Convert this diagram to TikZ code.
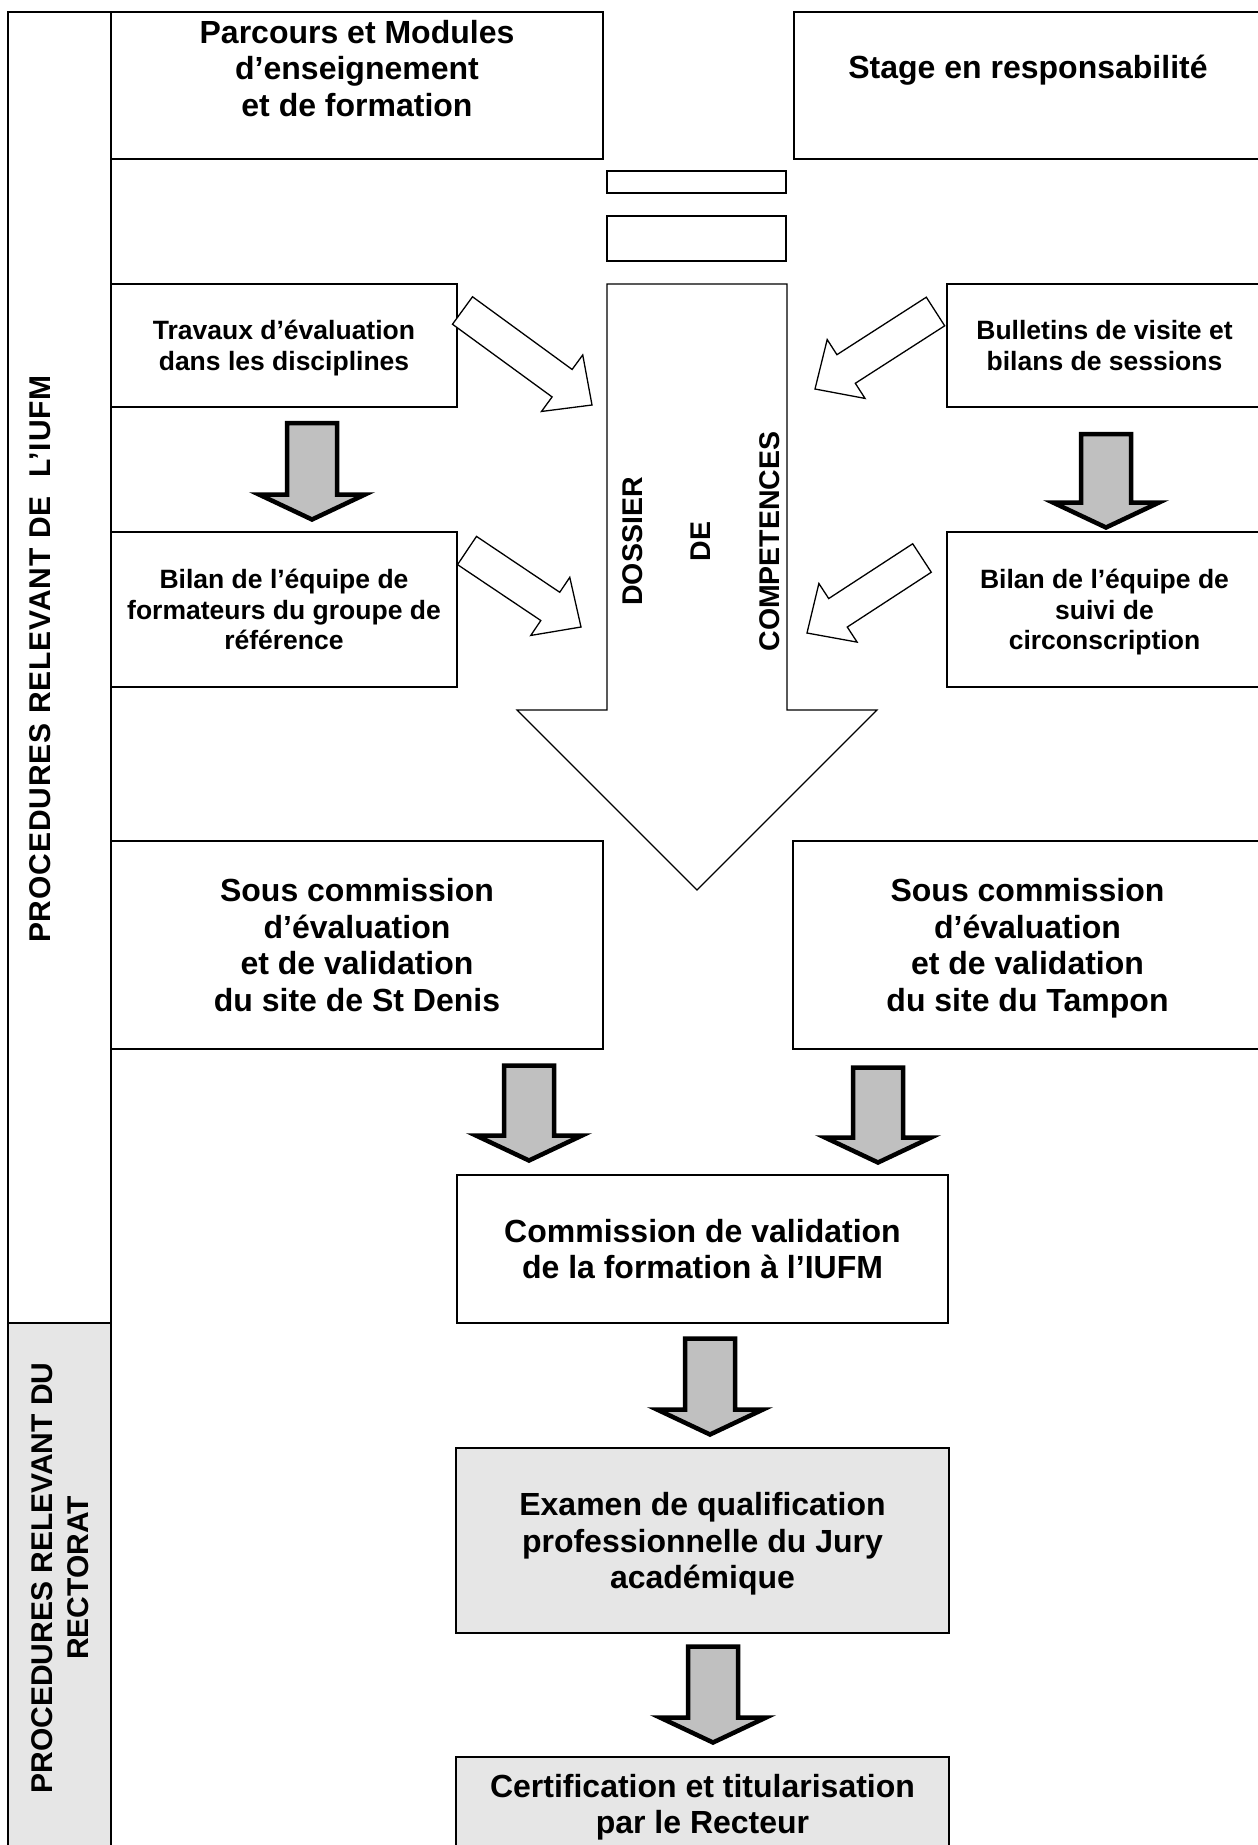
\documentclass[tikz,border=0pt]{standalone}
\usepackage{fontspec}
\setmainfont{Liberation Sans}
\usetikzlibrary{calc}

\definecolor{arrowgrey}{HTML}{C0C0C0}
\definecolor{panelgrey}{HTML}{E6E6E6}

% last line without descender depth, so the text sits like the others
\newcommand\flatline[1]{\raisebox{0pt}[\height][0pt]{#1}}

% block arrow: [style]{from}{to}{shaft half width}{head half width}{head length}
\newcommand\blockarrow[6][]{%
  \coordinate (neck) at ($(#3)!#6!(#2)$);
  \draw[#1] ($(#2)!#4!90:(#3)$) -- ($(neck)!#4!90:(#3)$) -- ($(neck)!#5!90:(#3)$) -- (#3)
    -- ($(neck)!#5!-90:(#3)$) -- ($(neck)!#4!-90:(#3)$) -- ($(#2)!#4!-90:(#3)$) -- cycle;
}

\tikzset{
  box/.style={draw, line width=2pt, inner sep=0pt, outer sep=0pt, anchor=north west,
    align=center, font=\bfseries\fontsize{32}{36.5}\selectfont},
  smallbox/.style={box, font=\bfseries\fontsize{26.5}{30.5}\selectfont},
  boxtext/.style={align=center, inner sep=0pt, font=\bfseries\fontsize{32}{36.5}\selectfont},
  sidetext/.style={rotate=90, align=center, inner sep=0pt, font=\bfseries\fontsize{30}{36}\selectfont},
  dossiertext/.style={rotate=90, align=center, inner sep=0pt, font=\bfseries\fontsize{28.5}{68.5}\selectfont},
  greyarrow/.style={draw, line width=4.5pt, fill=arrowgrey, line join=miter},
  hollowarrow/.style={draw, line width=1.3pt, fill=white, line join=miter},
  bigarrow/.style={draw, line width=1.2pt, fill=white, line join=miter}
}

\begin{document}
\begin{tikzpicture}[x=1pt,y=-1pt]
\useasboundingbox (0,0) rectangle (1258,1845);
\clip (0,0) rectangle (1258,1845);

% Side columns
\draw[line width=2pt] (8,12) rectangle (111,1323);
\draw[line width=2pt, fill=panelgrey] (8,1323) rectangle (111,1860);
\node[sidetext] (iufmlabel) at (40,659) {\addfontfeature{LetterSpace=3}PROCEDURES RELEVANT DE\ \ L’IUFM};
\node[sidetext] (rectoratlabel) at (60,1578) {PROCEDURES RELEVANT DU\\RECTORAT};

% Top boxes
\node[box, minimum width=492pt, minimum height=147pt] (parcours) at (111,12) {};
\node[boxtext] (parcourstext) at (357,68.5) {Parcours et Modules\\d’enseignement\\et de formation};
\node[box, minimum width=468pt, minimum height=147pt] (stage) at (794,12) {};
\node[boxtext] (stagetext) at (1028,70.5) {Stage en responsabilité};

% Dossier de competences
\node[box, minimum width=179pt, minimum height=22pt] (slota) at (607,171) {};
\node[box, minimum width=179pt, minimum height=45pt] (slotb) at (607,216) {};
\coordinate (dtop) at (697,284);
\coordinate (dtip) at (697,890);
\blockarrow[bigarrow]{dtop}{dtip}{90pt}{180pt}{180pt}
\node[dossiertext] (dossier) at (701,541.5) {DOSSIER\\DE\\COMPETENCES};

% Evaluation boxes
\node[smallbox, minimum width=346pt, minimum height=123pt] (travaux) at (111,284) {Travaux d’évaluation\\\flatline{dans les disciplines}};
\node[smallbox, minimum width=315pt, minimum height=123pt] (bulletins) at (947,284) {Bulletins de visite et\\bilans de sessions};
\node[smallbox, minimum width=346pt, minimum height=155pt] (bilana) at (111,532) {Bilan de l’équipe de\\formateurs du groupe de\\référence};
\node[smallbox, minimum width=315pt, minimum height=155pt] (bilanb) at (947,532) {Bilan de l’équipe de\\suivi de\\\flatline{circonscription}};

% Hollow arrows into the dossier
\coordinate (h1s) at (462.5,310.5); \coordinate (h1e) at (592,405);
\coordinate (h2s) at (935.5,311.5); \coordinate (h2e) at (815,389);
\coordinate (h3s) at (467,550.5);   \coordinate (h3e) at (581,627);
\coordinate (h4s) at (922,558);     \coordinate (h4e) at (807,633);
\blockarrow[hollowarrow]{h1s}{h1e}{17pt}{35pt}{37pt}
\blockarrow[hollowarrow]{h2s}{h2e}{17pt}{35pt}{37pt}
\blockarrow[hollowarrow]{h3s}{h3e}{17pt}{35pt}{37pt}
\blockarrow[hollowarrow]{h4s}{h4e}{17pt}{35pt}{37pt}

% Commissions
\node[box, minimum width=492pt, minimum height=208pt] (sousa) at (111,841) {Sous commission\\d’évaluation\\et de validation\\du site de St Denis};
\node[box, minimum width=469pt, minimum height=208pt] (sousb) at (793,841) {Sous commission\\d’évaluation\\et de validation\\\flatline{du site du Tampon}};
\node[box, minimum width=491pt, minimum height=148pt] (commission) at (457,1175) {Commission de validation\\de la formation à l’IUFM};

% Rectorat
\node[box, fill=panelgrey, minimum width=493pt, minimum height=185pt] (examen) at (456,1448) {Examen de qualification\\professionnelle du Jury\\\flatline{académique}};
\node[box, fill=panelgrey, minimum width=493pt, minimum height=140pt] (certif) at (456,1757) {};
\node[boxtext] (certiftext) at (702.5,1807) {Certification et titularisation\\par le Recteur};

% Grey arrows
\coordinate (g1s) at (312,423);    \coordinate (g1e) at (312,519.5);
\coordinate (g2s) at (1106,434);   \coordinate (g2e) at (1106,527.5);
\coordinate (g3s) at (529,1065.5); \coordinate (g3e) at (529,1160.5);
\coordinate (g4s) at (878,1067.5); \coordinate (g4e) at (878,1162.5);
\coordinate (g5s) at (710,1338.5); \coordinate (g5e) at (710,1434.5);
\coordinate (g6s) at (713,1646.5); \coordinate (g6e) at (713,1742.5);
\foreach \a in {g1,g2,g3,g4,g5,g6}
  {\blockarrow[greyarrow]{\a s}{\a e}{25pt}{53pt}{25pt}}

\end{tikzpicture}
\end{document}
